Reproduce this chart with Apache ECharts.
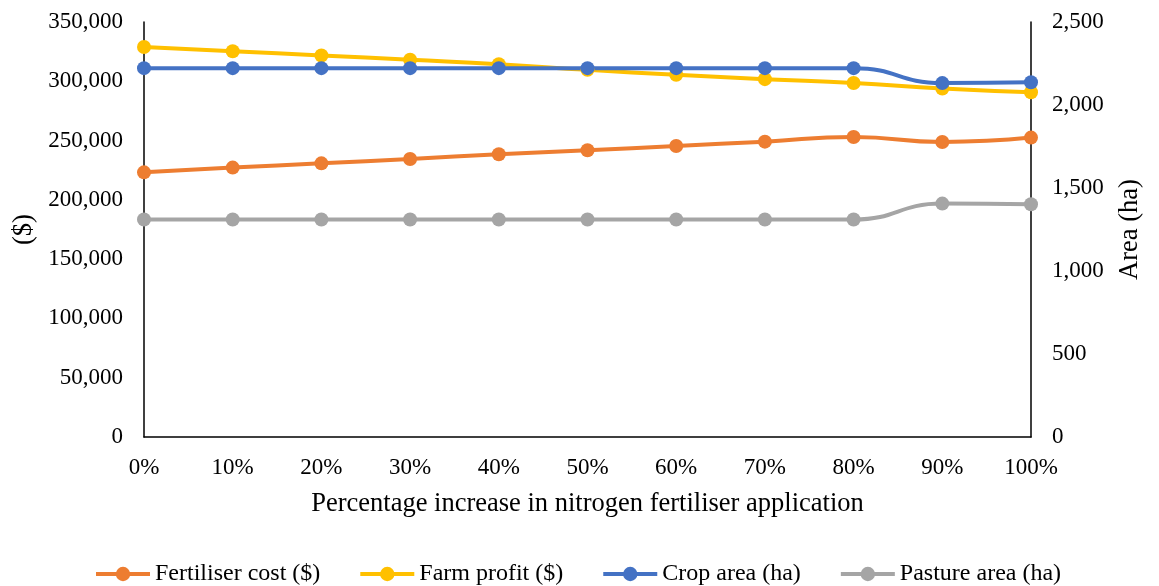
<!DOCTYPE html>
<html>
<head>
<meta charset="utf-8">
<script src="https://cdn.jsdelivr.net/npm/echarts@6/dist/echarts.min.js"></script>
<style>
  html, body { margin: 0; padding: 0; background: #fff; }
  #chart { width: 1159px; height: 586px; }
</style>
</head>
<body>
<div id="chart"></div>
<script>
// Categories: percentage increase in nitrogen fertiliser application
const categories = ['0%', '10%', '20%', '30%', '40%', '50%', '60%', '70%', '80%', '90%', '100%'];

// Dollar series (left axis)
const fertiliserCost = [223200, 227200, 230800, 234500, 238500, 241800, 245400, 249100, 253000, 248800, 252500];
const farmProfit = [328900, 325300, 321800, 318100, 314400, 309700, 305500, 301800, 298600, 293900, 290700];

// Area series in hectares (right axis)
const cropArea = [2222, 2222, 2222, 2222, 2222, 2222, 2222, 2222, 2222, 2132, 2137];
const pastureArea = [1310, 1310, 1310, 1310, 1310, 1310, 1310, 1310, 1310, 1406, 1402];

const FONT = '"Liberation Serif", "Times New Roman", serif';
const fmt = v => v.toLocaleString('en-US');

function lineSeries(name, data, color, axisIndex) {
  return {
    name: name,
    type: 'line',
    yAxisIndex: axisIndex,
    data: data,
    smooth: 0.5,
    smoothConstraint: false,
    symbol: 'circle',
    symbolSize: 14,
    lineStyle: { color: color, width: 4 },
    itemStyle: { color: color },
    emphasis: { disabled: true }
  };
}

const chart = echarts.init(document.getElementById('chart'), null, { renderer: 'canvas' });
chart.setOption({
  animation: false,
  backgroundColor: '#ffffff',
  textStyle: { fontFamily: FONT, color: '#000' },
  grid: { left: 144, right: 128, top: 22, bottom: 149, containLabel: false },
  legend: {
    left: 89,
    top: 557,
    itemWidth: 54,
    itemHeight: 18,
    itemGap: 38,
    lineStyle: { width: 4 },
    textStyle: { fontFamily: FONT, fontSize: 24, color: '#000' },
    data: ['Fertiliser cost ($)', 'Farm profit ($)', 'Crop area (ha)', 'Pasture area (ha)']
  },
  xAxis: {
    type: 'category',
    data: categories,
    boundaryGap: false,
    name: 'Percentage increase in nitrogen fertiliser application',
    nameLocation: 'middle',
    nameGap: 54,
    nameTextStyle: { fontFamily: FONT, fontSize: 26.5, color: '#000' },
    axisLine: { show: true, lineStyle: { color: '#000', width: 1.5 } },
    axisTick: { show: false },
    axisLabel: { fontFamily: FONT, fontSize: 23, color: '#000', margin: 19 },
    splitLine: { show: false }
  },
  yAxis: [
    {
      type: 'value',
      min: 0,
      max: 350000,
      interval: 50000,
      name: '($)',
      nameLocation: 'middle',
      nameRotate: 90,
      nameGap: 102,
      nameTextStyle: { fontFamily: FONT, fontSize: 26.5, color: '#000' },
      axisLine: { show: true, lineStyle: { color: '#000', width: 1.5 } },
      axisTick: { show: false },
      axisLabel: { fontFamily: FONT, fontSize: 23, color: '#000', margin: 21, formatter: fmt },
      splitLine: { show: false }
    },
    {
      type: 'value',
      min: 0,
      max: 2500,
      interval: 500,
      position: 'right',
      name: 'Area (ha)',
      nameLocation: 'middle',
      nameRotate: 90,
      nameGap: 86,
      nameTextStyle: { fontFamily: FONT, fontSize: 26.5, color: '#000' },
      axisLine: { show: true, lineStyle: { color: '#000', width: 1.5 } },
      axisTick: { show: false },
      axisLabel: { fontFamily: FONT, fontSize: 23, color: '#000', margin: 21, formatter: fmt },
      splitLine: { show: false }
    }
  ],
  series: [
    lineSeries('Fertiliser cost ($)', fertiliserCost, '#ED7D31', 0),
    lineSeries('Farm profit ($)', farmProfit, '#FFC000', 0),
    lineSeries('Crop area (ha)', cropArea, '#4472C4', 1),
    lineSeries('Pasture area (ha)', pastureArea, '#A5A5A5', 1)
  ]
});
</script>
</body>
</html>
